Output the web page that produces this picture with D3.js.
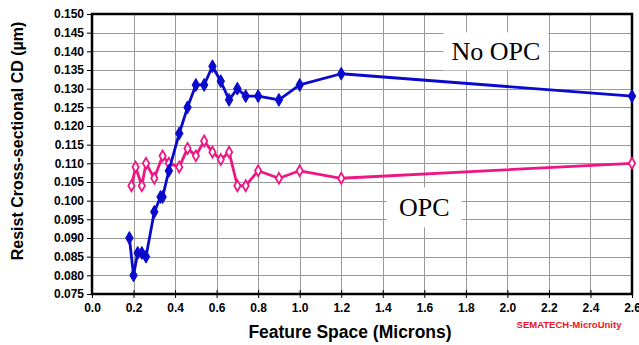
<!DOCTYPE html>
<html>
<head>
<meta charset="utf-8">
<script src="https://cdn.jsdelivr.net/npm/d3@7/dist/d3.min.js"></script>
<style>
  html, body { margin: 0; padding: 0; background: #fff; }
  svg { display: block; }
  text { font-family: "Liberation Sans", Arial, sans-serif; }
</style>
</head>
<body>
<svg id="chart" width="639" height="345"></svg>
<script>
// Feature space (microns) for each series
const noOpcSpace = [0.18, 0.20, 0.22, 0.24, 0.26, 0.30, 0.33, 0.34, 0.37, 0.42, 0.46, 0.50, 0.54, 0.58, 0.62, 0.66, 0.70, 0.74, 0.80, 0.90, 1.00, 1.20, 2.60];
const noOpcCD    = [0.090, 0.080, 0.086, 0.086, 0.085, 0.097, 0.101, 0.101, 0.108, 0.118, 0.125, 0.131, 0.131, 0.136, 0.132, 0.127, 0.130, 0.128, 0.128, 0.127, 0.131, 0.134, 0.128];

const opcSpace = [0.19, 0.21, 0.24, 0.26, 0.30, 0.34, 0.37, 0.42, 0.46, 0.50, 0.54, 0.58, 0.62, 0.66, 0.70, 0.74, 0.80, 0.90, 1.00, 1.20, 2.60];
const opcCD    = [0.104, 0.109, 0.104, 0.110, 0.106, 0.112, 0.110, 0.109, 0.114, 0.112, 0.116, 0.113, 0.111, 0.113, 0.104, 0.104, 0.108, 0.106, 0.108, 0.106, 0.110];

const xTicks = [0.0, 0.2, 0.4, 0.6, 0.8, 1.0, 1.2, 1.4, 1.6, 1.8, 2.0, 2.2, 2.4, 2.6];
const yTicks = [0.075, 0.080, 0.085, 0.090, 0.095, 0.100, 0.105, 0.110, 0.115, 0.120, 0.125, 0.130, 0.135, 0.140, 0.145, 0.150];

const seriesLabels = ["No OPC", "OPC"];
const yTitle = "Resist Cross-sectional CD (µm)";
const xTitle = "Feature Space (Microns)";
const credit = "SEMATECH-MicroUnity";

const svg = d3.select("#chart");
const plotLeft = 92, plotRight = 632, plotTop = 14, plotBottom = 294;

const x = d3.scaleLinear().domain([0, 2.6]).range([plotLeft, plotRight]);
const y = d3.scaleLinear().domain([0.075, 0.150]).range([plotBottom, plotTop]);

// grid
const grid = svg.append("g");
grid.selectAll("line.h").data(yTicks).join("line")
  .attr("x1", plotLeft).attr("x2", plotRight)
  .attr("y1", d => Math.round(y(d)) + 0.5).attr("y2", d => Math.round(y(d)) + 0.5)
  .attr("stroke", "#999").attr("stroke-width", 1);
grid.selectAll("line.v").data(xTicks).join("line")
  .attr("y1", plotTop).attr("y2", plotBottom)
  .attr("x1", d => Math.round(x(d)) + 0.5).attr("x2", d => Math.round(x(d)) + 0.5)
  .attr("stroke", "#999").attr("stroke-width", 1);

// series callout labels on white boxes
const callouts = [
  { text: seriesLabels[0], cx: 1.945, cy: 0.1400, w: 105, h: 38 },
  { text: seriesLabels[1], cx: 1.60, cy: 0.0982, w: 75, h: 40 }
];
callouts.forEach(c => {
  svg.append("rect")
    .attr("x", x(c.cx) - c.w / 2).attr("y", y(c.cy) - c.h / 2)
    .attr("width", c.w).attr("height", c.h).attr("fill", "#fff");
  svg.append("text")
    .attr("x", x(c.cx)).attr("y", y(c.cy) + 9)
    .attr("text-anchor", "middle")
    .style("font-family", "'Liberation Serif', 'Times New Roman', serif")
    .style("font-size", "26px").attr("fill", "#000")
    .text(c.text);
});

// axes
const yAxis = d3.axisLeft(y).tickValues(yTicks).tickFormat(d3.format(".3f")).tickSize(5).tickPadding(3);
const xAxis = d3.axisBottom(x).tickValues(xTicks).tickFormat(d3.format(".1f")).tickSize(4).tickPadding(5);

const gy = svg.append("g").attr("transform", `translate(${plotLeft},0)`).call(yAxis);
const gx = svg.append("g").attr("transform", `translate(0,${plotBottom})`).call(xAxis);
[gy, gx].forEach(g => {
  g.select(".domain").remove();
  g.selectAll(".tick line").attr("stroke", "#000").attr("stroke-width", 1);
  g.selectAll(".tick text").attr("fill", "#000")
    .style("font-family", "'Liberation Sans', Arial, sans-serif")
    .style("font-size", "12px").style("font-weight", "700");
});
gx.selectAll(".tick line").attr("y1", -4).attr("y2", 4);

// plot frame
svg.append("rect")
  .attr("x", plotLeft).attr("y", plotTop).attr("width", plotRight - plotLeft).attr("height", plotBottom - plotTop)
  .attr("fill", "none").attr("stroke", "#000").attr("stroke-width", 2.5);

const line = d3.line().x(d => x(d[0])).y(d => y(d[1]));
const diamond = d3.symbol().type(d3.symbolDiamond);

// OPC series
const opcPts = opcSpace.map((v, i) => [v, opcCD[i]]);
const pink = "#EE1685";
svg.append("path").datum(opcPts).attr("d", line)
  .attr("fill", "none").attr("stroke", pink).attr("stroke-width", 2.8).attr("stroke-linejoin", "round");
svg.append("g").selectAll("path").data(opcPts).join("path")
  .attr("transform", d => `translate(${x(d[0])},${y(d[1])})`)
  .attr("d", diamond.size(34))
  .attr("fill", "#fff").attr("stroke", pink).attr("stroke-width", 1.8);

// No OPC series
const noPts = noOpcSpace.map((v, i) => [v, noOpcCD[i]]);
const blue = "#0A0ACC";
svg.append("path").datum(noPts).attr("d", line)
  .attr("fill", "none").attr("stroke", blue).attr("stroke-width", 2.8).attr("stroke-linejoin", "round");
svg.append("g").selectAll("path").data(noPts).join("path")
  .attr("transform", d => `translate(${x(d[0])},${y(d[1])})`)
  .attr("d", diamond.size(48))
  .attr("fill", blue).attr("stroke", blue).attr("stroke-width", 1);

// titles
svg.append("text")
  .attr("transform", `translate(23,${141}) rotate(-90)`)
  .attr("text-anchor", "middle")
  .style("font-size", "16px").style("font-weight", "700").attr("fill", "#000")
  .text(yTitle);

svg.append("text")
  .attr("x", 350).attr("y", 338)
  .attr("text-anchor", "middle")
  .style("font-size", "17.5px").style("font-weight", "700").attr("fill", "#000")
  .text(xTitle);

svg.append("text")
  .attr("x", 569).attr("y", 328)
  .attr("text-anchor", "middle")
  .style("font-size", "9.5px").style("font-weight", "700").attr("fill", "#E8141E")
  .text(credit);
</script>
</body>
</html>
